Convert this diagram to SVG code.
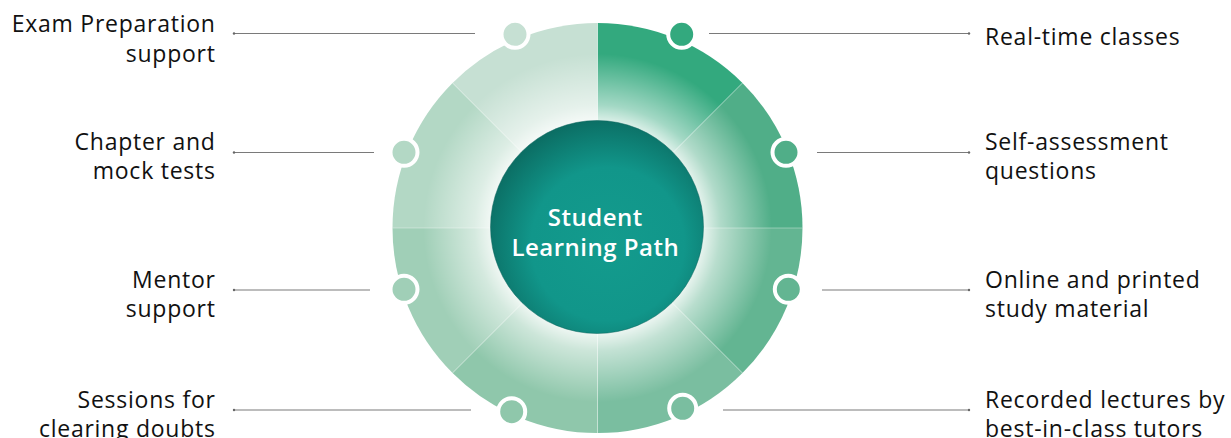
<svg xmlns="http://www.w3.org/2000/svg" width="1231" height="438" viewBox="0 0 1231 438">
<style>
.lbl{font-family:"Open Sans","Liberation Sans",sans-serif;font-size:23px;letter-spacing:0.75px;fill:#111;}
.l{text-anchor:end;}
.ctr{font-family:"Open Sans","Liberation Sans",sans-serif;font-size:24px;font-weight:600;letter-spacing:0.5px;fill:#fff;text-anchor:middle;}
.conn{stroke:#7a7a7a;stroke-width:1.2;fill:none;}
.dot{stroke:#fff;stroke-width:4;}
.sep{stroke:#fff;stroke-opacity:0.35;stroke-width:1;}
</style>
<defs>
<radialGradient id="wash" gradientUnits="userSpaceOnUse" cx="597.5" cy="228" r="205">
<stop offset="0.5" stop-color="#fff" stop-opacity="0.9"/>
<stop offset="0.6" stop-color="#fff" stop-opacity="0.55"/>
<stop offset="0.85" stop-color="#fff" stop-opacity="0"/>
</radialGradient>
<radialGradient id="core" cx="0.55" cy="0.58" r="0.6">
<stop offset="0" stop-color="#139b8d"/>
<stop offset="0.6" stop-color="#11968a"/>
<stop offset="1" stop-color="#0b6c62"/>
</radialGradient>
<marker id="tick" markerWidth="4" markerHeight="4" refX="2" refY="2" markerUnits="userSpaceOnUse">
<circle cx="2" cy="2" r="1.2" fill="#666"/>
</marker>
</defs>
<g id="connectors">
<line class="conn" x1="234" y1="33.5" x2="475" y2="33.5" marker-start="url(#tick)"/>
<line class="conn" x1="234" y1="152.5" x2="374" y2="152.5" marker-start="url(#tick)"/>
<line class="conn" x1="234" y1="290" x2="370" y2="290" marker-start="url(#tick)"/>
<line class="conn" x1="234" y1="410" x2="471" y2="410" marker-start="url(#tick)"/>
<line class="conn" x1="709" y1="33.5" x2="969" y2="33.5" marker-end="url(#tick)"/>
<line class="conn" x1="817" y1="152.5" x2="969" y2="152.5" marker-end="url(#tick)"/>
<line class="conn" x1="822" y1="290" x2="969" y2="290" marker-end="url(#tick)"/>
<line class="conn" x1="723" y1="410" x2="969" y2="410" marker-end="url(#tick)"/>
</g>
<g id="wheel">
<path d="M597.5 228 L597.5 23 A205 205 0 0 1 742.46 83.04 Z" fill="#33a97e"/>
<path d="M597.5 228 L742.46 83.04 A205 205 0 0 1 802.5 228 Z" fill="#50ae88"/>
<path d="M597.5 228 L802.5 228 A205 205 0 0 1 742.46 372.96 Z" fill="#63b592"/>
<path d="M597.5 228 L742.46 372.96 A205 205 0 0 1 597.5 433 Z" fill="#7abea0"/>
<path d="M597.5 228 L597.5 433 A205 205 0 0 1 452.54 372.96 Z" fill="#8fc7ab"/>
<path d="M597.5 228 L452.54 372.96 A205 205 0 0 1 392.5 228 Z" fill="#a0cfb7"/>
<path d="M597.5 228 L392.5 228 A205 205 0 0 1 452.54 83.04 Z" fill="#b3d8c5"/>
<path d="M597.5 228 L452.54 83.04 A205 205 0 0 1 597.5 23 Z" fill="#c6e0d3"/>
<circle cx="597.5" cy="228" r="205" fill="url(#wash)"/>
<path class="sep" d="M597.5 23 V433 M392.5 228 H802.5 M452.54 83.04 L742.46 372.96 M742.46 83.04 L452.54 372.96"/>
</g>
<g id="center">
<circle cx="597" cy="227" r="106.5" fill="url(#core)" stroke="#0b665d" stroke-opacity="0.5" stroke-width="1"/>
<text class="ctr" x="595.3" y="226">Student</text>
<text class="ctr" x="595.3" y="256">Learning Path</text>
</g>
<g id="n-realtime">
<circle class="dot" cx="681.7" cy="34.3" r="13.5" fill="#33a97e"/>
<text class="lbl" x="985" y="45">Real-time classes</text>
</g>
<g id="n-selfassess">
<circle class="dot" cx="786" cy="152.3" r="13.5" fill="#50ae88"/>
<text class="lbl" x="985" y="150">Self-assessment</text>
<text class="lbl" x="985" y="178.5">questions</text>
</g>
<g id="n-material">
<circle class="dot" cx="788.3" cy="289.3" r="13.5" fill="#63b592"/>
<text class="lbl" x="985" y="288.3">Online and printed</text>
<text class="lbl" x="985" y="316.7">study material</text>
</g>
<g id="n-recorded">
<circle class="dot" cx="682.7" cy="408.3" r="13.5" fill="#7abea0"/>
<text class="lbl" x="985" y="408.3">Recorded lectures by</text>
<text class="lbl" x="985" y="436.7">best-in-class tutors</text>
</g>
<g id="n-doubts">
<circle class="dot" cx="511.7" cy="411.7" r="13.5" fill="#8fc7ab"/>
<text class="lbl l" x="215.7" y="408.3">Sessions for</text>
<text class="lbl l" x="215.7" y="436.7">clearing doubts</text>
</g>
<g id="n-mentor">
<circle class="dot" cx="404" cy="289.3" r="13.5" fill="#a0cfb7"/>
<text class="lbl l" x="215.7" y="288.3">Mentor</text>
<text class="lbl l" x="215.7" y="316.7">support</text>
</g>
<g id="n-chapter">
<circle class="dot" cx="404" cy="152.3" r="13.5" fill="#b3d8c5"/>
<text class="lbl l" x="215.7" y="150">Chapter and</text>
<text class="lbl l" x="215.7" y="178.5">mock tests</text>
</g>
<g id="n-exam">
<circle class="dot" cx="515" cy="34.3" r="13.5" fill="#c6e0d3"/>
<text class="lbl l" x="215.7" y="31.7">Exam Preparation</text>
<text class="lbl l" x="215.7" y="61.7">support</text>
</g>
</svg>
